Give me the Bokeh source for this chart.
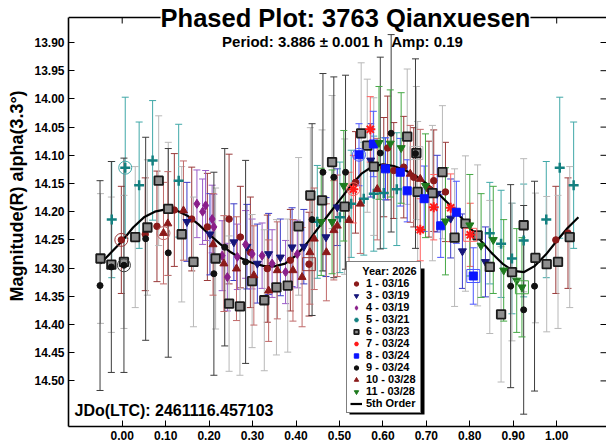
from bokeh.plotting import figure
from bokeh.models import (ColumnDataSource, Whisker, TeeHead, Legend, LegendItem, Label, Span,
                          FixedTicker, NumeralTickFormatter, Range1d, BoxAnnotation)
from bokeh.embed import file_html
from bokeh.resources import INLINE

# ---------------- data ----------------
x_ticks = [0.0, 0.1, 0.2, 0.3, 0.4, 0.5, 0.6, 0.7, 0.8, 0.9, 1.0]
y_ticks = [13.90, 13.95, 14.00, 14.05, 14.10, 14.15, 14.20, 14.25, 14.30, 14.35, 14.40, 14.45, 14.50]

s1_phase = [-0.002, 0.053, 0.080, 0.120, 0.160, 0.196, 0.246, 0.272, 0.295, 0.334, 0.387, 0.430,
            0.537, 0.602, 0.611, 0.625, 0.648, 0.671, 0.706, 0.717, 0.744, 0.998, 1.026]
s1_mag = [14.250, 14.240, 14.226, 14.197, 14.213, 14.227, 14.213, 14.245, 14.272, 14.301, 14.286, 14.293,
          14.148, 14.121, 14.087, 14.127, 14.121, 14.139, 14.160, 14.145, 14.165, 14.250, 14.238]
s1_err = [0.095, 0.100, 0.098, 0.100, 0.092, 0.095, 0.115, 0.090, 0.098, 0.095, 0.090, 0.092,
          0.090, 0.088, 0.092, 0.085, 0.090, 0.088, 0.085, 0.090, 0.088, 0.095, 0.098]

s3_phase = [0.149, 0.202, 0.257, 0.287, 0.311, 0.337, 0.364, 0.391, 0.418, 0.469, 0.495, 0.572,
            0.725, 0.756, 0.783, 0.836]
s3_mag = [14.218, 14.240, 14.254, 14.262, 14.292, 14.275, 14.281, 14.263, 14.262, 14.245, 14.192, 14.109,
          14.168, 14.212, 14.270, 14.289]
s3_err = [0.070, 0.072, 0.068, 0.075, 0.070, 0.072, 0.068, 0.070, 0.066, 0.070, 0.068, 0.065,
          0.068, 0.070, 0.066, 0.062]

s4_phase = [0.172, 0.185, 0.192, 0.207, 0.211, 0.230, 0.242, 0.265, 0.284, 0.299, 0.322, 0.345, 0.376, 0.403]
s4_mag = [14.186, 14.200, 14.189, 14.213, 14.227, 14.278, 14.316, 14.280, 14.258, 14.275, 14.278, 14.292,
          14.307, 14.275]
s4_err = [0.060, 0.058, 0.062, 0.060, 0.058, 0.062, 0.060, 0.058, 0.060, 0.062, 0.058, 0.060, 0.056, 0.060]

s5_phase = [-0.024, 0.007, 0.039, 0.070, 0.130, 0.449, 0.501, 0.527, 0.556, 0.579, 0.602, 0.632,
            0.846, 0.872, 0.897, 0.924, 0.976, 1.007, 1.039]
s5_mag = [14.214, 14.122, 14.153, 14.109, 14.145, 14.218, 14.210, 14.186, 14.177, 14.168, 14.167, 14.160,
          14.238, 14.257, 14.283, 14.251, 14.214, 14.122, 14.153]
s5_err = [0.103, 0.125, 0.112, 0.106, 0.100, 0.100, 0.098, 0.095, 0.100, 0.102, 0.098, 0.100,
          0.090, 0.095, 0.098, 0.100, 0.103, 0.125, 0.112]

s6_phase = [-0.050, -0.025, 0.004, 0.030, 0.058, 0.084, 0.106, 0.137, 0.164, 0.215, 0.246, 0.271,
            0.299, 0.327, 0.355, 0.381, 0.406, 0.433, 0.460, 0.483, 0.512, 0.550, 0.564, 0.579,
            0.656, 0.677, 0.680, 0.714, 0.737, 0.765, 0.790, 0.818, 0.846, 0.872, 0.897, 0.924,
            0.951, 0.977, 1.003, 1.030]
s6_mag = [14.283, 14.294, 14.289, 14.245, 14.228, 14.145, 14.195, 14.240, 14.289, 14.283, 14.363, 14.368,
          14.323, 14.357, 14.334, 14.331, 14.226, 14.171, 14.180, 14.112, 14.191, 14.061, 14.083, 14.120,
          14.067, 14.096, 14.165, 14.167, 14.130, 14.246, 14.221, 14.242, 14.298, 14.382, 14.307, 14.224,
          14.282, 14.293, 14.289, 14.245]
s6_err = [0.115, 0.120, 0.118, 0.125, 0.120, 0.115, 0.118, 0.120, 0.115, 0.125, 0.120, 0.122,
          0.118, 0.125, 0.120, 0.118, 0.122, 0.120, 0.125, 0.118, 0.120, 0.125, 0.118, 0.122,
          0.120, 0.118, 0.125, 0.120, 0.118, 0.122, 0.120, 0.125, 0.118, 0.120, 0.122, 0.118,
          0.115, 0.120, 0.118, 0.125]

s7_phase = [0.532, 0.571, 0.686, 0.717, 0.756, 0.801]
s7_mag = [14.160, 14.054, 14.232, 14.192, 14.193, 14.241]
s7_err = [0.060, 0.058, 0.055, 0.058, 0.060, 0.056]

s8_phase = [0.545, 0.578, 0.606, 0.640, 0.656, 0.695, 0.733, 0.769, 0.808]
s8_mag = [14.099, 14.080, 14.124, 14.130, 14.163, 14.177, 14.225, 14.201, 14.314]
s8_err = [0.055, 0.058, 0.055, 0.060, 0.055, 0.058, 0.056, 0.055, 0.050]

s9_phase = [-0.051, -0.025, 0.004, 0.054, 0.106, 0.211, 0.236, 0.284, 0.437, 0.462, 0.487, 0.514,
            0.594, 0.619, 0.675, 0.894, 0.924, 0.949]
s9_mag = [14.331, 14.298, 14.295, 14.248, 14.273, 14.310, 14.263, 14.289, 14.214, 14.130, 14.139, 14.130,
          14.096, 14.061, 14.097, 14.332, 14.374, 14.332]
s9_err = [0.186, 0.187, 0.190, 0.180, 0.185, 0.180, 0.175, 0.180, 0.170, 0.175, 0.178, 0.172,
          0.170, 0.175, 0.168, 0.180, 0.185, 0.186]

s10_phase = [0.095, 0.105, 0.141, 0.209, 0.234, 0.263, 0.303, 0.337, 0.357, 0.393, 0.414, 0.432,
             0.442, 0.470, 0.487, 0.495, 0.522, 0.548, 0.587, 0.663, 0.686]
s10_mag = [14.238, 14.221, 14.198, 14.258, 14.292, 14.301, 14.313, 14.340, 14.304, 14.304, 14.316, 14.272,
           14.248, 14.272, 14.233, 14.225, 14.215, 14.186, 14.160, 14.133, 14.142]
s10_err = [0.090, 0.092, 0.088, 0.090, 0.085, 0.092, 0.088, 0.090, 0.086, 0.090, 0.088, 0.092,
           0.090, 0.086, 0.088, 0.090, 0.085, 0.088, 0.090, 0.086, 0.088]

s11_phase = [0.458, 0.483, 0.510, 0.591, 0.617, 0.642, 0.698, 0.744, 0.800, 0.826, 0.854, 0.878, 0.908, 0.920]
s11_mag = [14.218, 14.218, 14.154, 14.078, 14.079, 14.087, 14.154, 14.217, 14.224, 14.260, 14.250, 14.304,
           14.322, 14.334]
s11_err = [0.095, 0.092, 0.098, 0.100, 0.095, 0.098, 0.092, 0.095, 0.090, 0.092, 0.095, 0.090, 0.092, 0.088]

fit_phase = [-0.050, -0.025, 0.000, 0.025, 0.050, 0.075, 0.100, 0.125, 0.150, 0.175, 0.200, 0.225,
             0.250, 0.275, 0.300, 0.325, 0.350, 0.375, 0.400, 0.425, 0.450, 0.475, 0.500, 0.525,
             0.550, 0.575, 0.600, 0.625, 0.650, 0.675, 0.700, 0.725, 0.750, 0.775, 0.800, 0.825,
             0.850, 0.875, 0.900, 0.925, 0.950, 0.975, 1.000, 1.025, 1.050]
fit_mag = [14.292, 14.272, 14.252, 14.228, 14.210, 14.200, 14.196, 14.198, 14.207, 14.222, 14.240, 14.257,
           14.272, 14.283, 14.291, 14.296, 14.297, 14.292, 14.278, 14.256, 14.230, 14.205, 14.180, 14.155,
           14.133, 14.120, 14.116, 14.119, 14.126, 14.136, 14.150, 14.166, 14.185, 14.206, 14.228, 14.251,
           14.273, 14.292, 14.305, 14.307, 14.296, 14.276, 14.252, 14.229, 14.210]

# index of first (circled) and last (boxed) observation of some sessions
first_obs = {"1": 0, "5": 1, "7": 0, "8": 0, "9": 2, "10": 0}
last_obs = {"1": 11, "6": 25, "7": 5, "8": 8, "11": 13}

# ---------------- layout helpers (pixel -> data for the fixed frame) ----------------
FONT = "Liberation Sans"
def px_x(px):
    return (px - 121.7) / 434.5
def px_y(py):
    return 13.90 + (py - 42.0) * 0.05 / 28.2

X0, X1 = px_x(68), px_x(606)
Y_CANVAS_TOP, Y_BOT = px_y(0), px_y(426)
Y_FRAME_TOP = px_y(17)

p = figure(width=606, height=444, output_backend="svg", toolbar_location=None, title=None,
           x_range=Range1d(X0, X1), y_range=Range1d(Y_BOT, Y_CANVAS_TOP),
           min_border_left=68, min_border_right=0, min_border_top=0, min_border_bottom=18)
p.outline_line_color = None
p.xgrid.visible = False
p.ygrid.visible = False
p.background_fill_color = "white"
p.border_fill_color = "white"

for ax, ticks in ((p.xaxis[0], x_ticks), (p.yaxis[0], y_ticks)):
    ax.ticker = FixedTicker(ticks=ticks)
    ax.formatter = NumeralTickFormatter(format="0.00")
    ax.major_tick_in = 6
    ax.major_tick_out = 0
    ax.minor_tick_line_color = None
    ax.axis_line_width = 1.6
    ax.axis_line_color = "black"
    ax.major_tick_line_color = "black"
    ax.major_label_text_font = FONT
    ax.major_label_text_font_style = "bold"
    ax.major_label_text_font_size = "12px"
    ax.major_label_text_color = "black"
    ax.major_label_standoff = 4
p.yaxis.bounds = (Y_FRAME_TOP, Y_BOT)
p.yaxis.axis_label = "\u00a0" * 7 + "Magnitude(R) alpha(3.3\u00b0)"
p.yaxis.axis_label_text_font = FONT
p.yaxis.axis_label_text_font_style = "bold"
p.yaxis.axis_label_text_font_size = "18px"
p.yaxis.axis_label_text_color = "black"
p.yaxis.axis_label_standoff = 4

# top frame line with inward ticks, inward ticks on the right edge
p.add_layout(Span(location=Y_FRAME_TOP, dimension="width", line_color="black", line_width=1.6, level="underlay"))
tick_dy = 6 * 0.05 / 28.2
tick_dx = 6 / 434.5
p.segment(x0=x_ticks, y0=[Y_FRAME_TOP] * len(x_ticks), x1=x_ticks, y1=[Y_FRAME_TOP + tick_dy] * len(x_ticks),
          line_color="black", line_width=1, level="underlay")
p.segment(x0=[X1 - tick_dx] * len(y_ticks), y0=y_ticks, x1=[X1] * len(y_ticks), y1=y_ticks,
          line_color="black", line_width=1, level="underlay")

series = [
    ("1", "1 - 03/16", s1_phase, s1_mag, s1_err, "circle", 6.5, "#8b1a1a", "#8b1a1a", 1, "#9a3a3a"),
    ("3", "3 - 03/19", s3_phase, s3_mag, s3_err, "inverted_triangle", 8, "#16167a", "#16167a", 1, "#3c3cc8"),
    ("4", "4 - 03/19", s4_phase, s4_mag, s4_err, "diamond", 9, "#8a1f8a", "#8a1f8a", 1, "#9a5cc8"),
    ("5", "5 - 03/21", s5_phase, s5_mag, s5_err, "cross", 10, None, "#138080", 2.5, "#40a8a8"),
    ("6", "6 - 03/23", s6_phase, s6_mag, s6_err, "square", 8.5, "#8e8e8e", "#1a1a1a", 1.8, "#b8b8b8"),
    ("7", "7 - 03/24", s7_phase, s7_mag, s7_err, "asterisk", 10, None, "#ff1a1a", 2, "#ff6060"),
    ("8", "8 - 03/24", s8_phase, s8_mag, s8_err, "square", 8, "#0a14ff", "#0a14ff", 1, "#4a55ff"),
    ("9", "9 - 03/24", s9_phase, s9_mag, s9_err, "circle", 6, "#111111", "#111111", 1, "#3c3c3c"),
    ("10", "10 - 03/28", s10_phase, s10_mag, s10_err, "triangle", 8, "#8b1a1a", "#8b1a1a", 1, "#c06a6a"),
    ("11", "11 - 03/28", s11_phase, s11_mag, s11_err, "inverted_triangle", 8, "#1e7a1e", "#1e7a1e", 1, "#45a845"),
]

# error bars first (under markers)
for key, lab, ph, mg, er, mk, sz, fc, lc, lw, ec in series:
    src = ColumnDataSource(dict(x=ph, lo=[m - e for m, e in zip(mg, er)], hi=[m + e for m, e in zip(mg, er)]))
    w = Whisker(base="x", upper="hi", lower="lo", source=src, line_color=ec, line_width=1,
                upper_head=TeeHead(size=7, line_color=ec, line_width=1),
                lower_head=TeeHead(size=7, line_color=ec, line_width=1))
    p.add_layout(w)

fit_r = p.line(fit_phase, fit_mag, line_color="black", line_width=2.2)

items = []
for key, lab, ph, mg, er, mk, sz, fc, lc, lw, ec in series:
    r = p.scatter(ph, mg, marker=mk, size=sz, fill_color=fc, line_color=lc, line_width=lw)
    items.append(LegendItem(label=lab, renderers=[r]))
    if key in first_obs:
        i = first_obs[key]
        p.scatter([ph[i]], [mg[i]], marker="circle", size=13, fill_color=None, line_color=ec, line_width=1)
    if key in last_obs:
        i = last_obs[key]
        p.scatter([ph[i]], [mg[i]], marker="square", size=13, fill_color=None, line_color=ec, line_width=1)
items.append(LegendItem(label="5th Order", renderers=[fit_r]))

# legend drop shadow
shadow = BoxAnnotation(left=px_x(349), right=px_x(424), top=px_y(268), bottom=px_y(414),
                       fill_color="black", fill_alpha=1, line_color=None, level="annotation")
p.add_layout(shadow)

legend = Legend(items=items, location=(278, 13), title="\u00a0\u00a0\u00a0\u00a0Year: 2026",
                title_text_font=FONT, title_text_font_style="bold", title_text_font_size="11px",
                title_text_color="black", title_standoff=0,
                label_text_font=FONT, label_text_font_style="bold", label_text_font_size="11px",
                label_text_color="black",
                glyph_width=12, glyph_height=11, label_height=11, label_standoff=4,
                spacing=0, padding=3, margin=0,
                border_line_color="black", border_line_width=1.2,
                background_fill_color="white", background_fill_alpha=1)
p.add_layout(legend)

title = Label(x=px_x(345), y=px_y(17.5), text="Phased Plot: 3763 Qianxuesen",
              text_font=FONT, text_font_style="bold", text_font_size="25.5px", text_color="black",
              text_align="center", text_baseline="middle",
              background_fill_color="white", background_fill_alpha=1)
p.add_layout(title)
subtitle = Label(x=px_x(342), y=px_y(41), text="Period: 3.886 \u00b1 0.001 h \u00a0Amp: 0.19",
                 text_font=FONT, text_font_style="bold", text_font_size="15px", text_color="black",
                 text_align="center", text_baseline="middle")
p.add_layout(subtitle)
jdo = Label(x=px_x(74), y=px_y(410), text="JDo(LTC): 2461116.457103",
            text_font=FONT, text_font_style="bold", text_font_size="16px", text_color="black",
            text_align="left", text_baseline="middle")
p.add_layout(jdo)

open("out.html", "w").write(file_html(p, INLINE))
